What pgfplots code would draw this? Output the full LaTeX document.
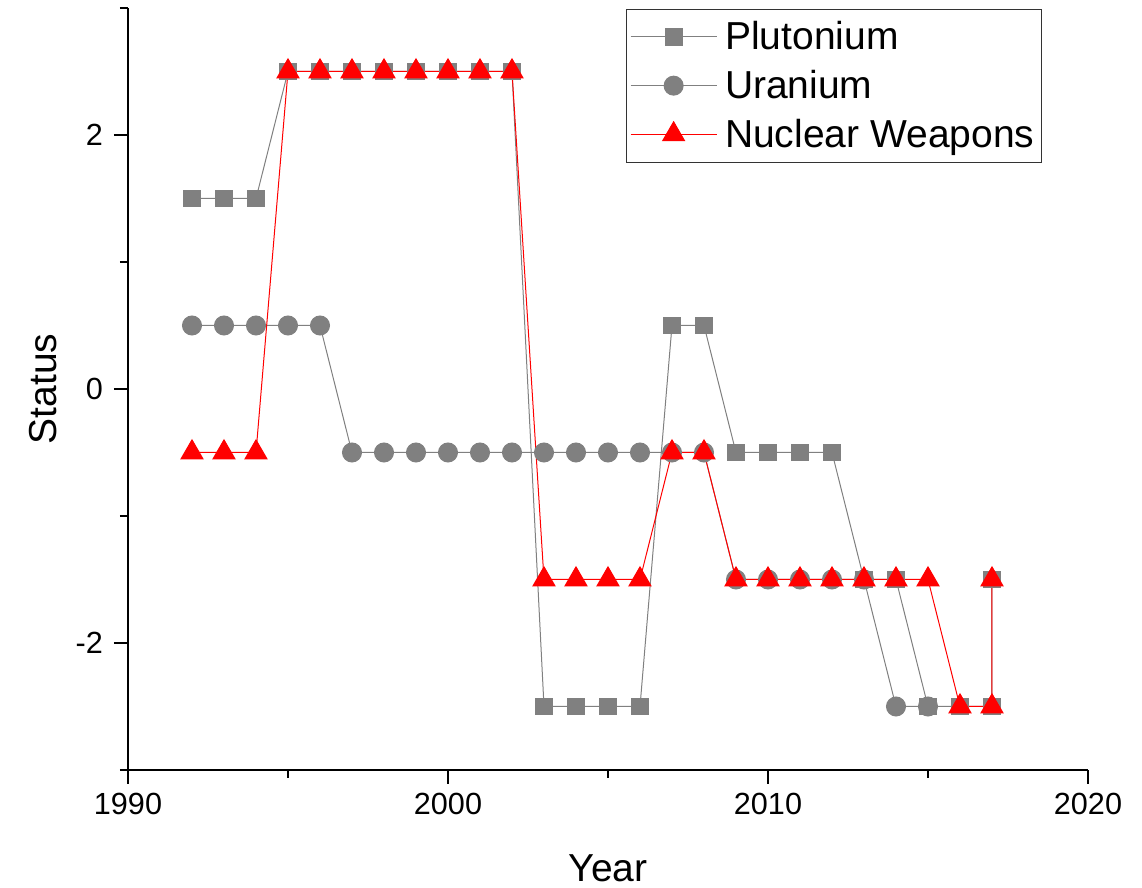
\documentclass[border=0pt]{standalone}
\usepackage{pgfplots}
\pgfplotsset{compat=1.18}
\usepackage{fontspec}
\setmainfont{Liberation Sans}
\definecolor{pgray}{RGB}{128,128,128}
\definecolor{pred}{RGB}{255,0,0}
\begin{document}
\begin{tikzpicture}
\useasboundingbox (-64pt,-59pt) rectangle (507pt,385pt);
\begin{axis}[
  at={(0,0)}, anchor=south west,
  scale only axis, width=480pt, height=381pt,
  xmin=1990, xmax=2020, ymin=-3, ymax=3,
  axis x line=bottom, axis y line=left,
  axis line style={-, line width=1pt, black},
  xtick={1990,2000,2010,2020}, xticklabels={1990,2000,2010,2020},
  minor xtick={1995,2005,2015},
  ytick={-2,0,2}, yticklabels={-2,0,2},
  minor ytick={-3,-1,1,3},
  tick align=outside,
  major tick length=7pt, minor tick length=4pt,
  every tick/.style={black, line width=1pt},
  tick label style={font=\fontsize{15.3}{18}\selectfont},
  xticklabel style={yshift=-1pt},
  yticklabel style={xshift=-2pt},
  xlabel={Year}, ylabel={Status},
  label style={font=\fontsize{19.5}{23}\selectfont},
  xlabel style={at={(axis description cs:0.5,-0.1286)}, anchor=center},
  ylabel style={at={(axis description cs:-0.0885,0.5)}, anchor=center, rotate=0},
  clip=false,
  legend cell align=left,
  legend image code/.code={\draw[mark repeat=2,mark phase=2,#1] plot coordinates {(0pt,0pt) (21.5pt,0pt) (43pt,0pt)};},
  legend style={at={(rel axis cs:0.952,0.999)}, anchor=north east,
    draw=black!80, line width=0.5pt, font=\fontsize{19.5}{23}\selectfont,
    inner xsep=2pt, inner ysep=4.5pt, row sep=5.75pt, column sep=2.5pt,
    nodes={inner sep=1.5pt}},
]
\addlegendimage{pgray, line width=0.5pt, mark=square*, mark size=4.2pt, mark options={fill=pgray, draw=pgray}}
\addlegendentry{Plutonium}
\addlegendimage{pgray, line width=0.5pt, mark=*, mark size=4.75pt, mark options={fill=pgray, draw=pgray}}
\addlegendentry{Uranium}
\addlegendimage{pred, line width=0.5pt, mark=triangle*, mark size=6.3pt, mark options={fill=pred, draw=pred}}
\addlegendentry{Nuclear Weapons}
% Uranium
\addplot[pgray, line width=0.5pt, mark=*, mark size=4.75pt, mark options={fill=pgray, draw=pgray}, forget plot] coordinates {
(1992,0.5) (1993,0.5) (1994,0.5) (1995,0.5) (1996,0.5)
(1997,-0.5) (1998,-0.5) (1999,-0.5) (2000,-0.5) (2001,-0.5) (2002,-0.5)
(2003,-0.5) (2004,-0.5) (2005,-0.5) (2006,-0.5) (2007,-0.5) (2008,-0.5)
(2009,-1.5) (2010,-1.5) (2011,-1.5) (2012,-1.5) (2013,-1.5)
(2014,-2.5) (2015,-2.5)
};
% Plutonium
\addplot[pgray, line width=0.5pt, mark=square*, mark size=4.2pt, mark options={fill=pgray, draw=pgray}, forget plot] coordinates {
(1992,1.5) (1993,1.5) (1994,1.5)
(1995,2.5) (1996,2.5) (1997,2.5) (1998,2.5) (1999,2.5) (2000,2.5) (2001,2.5) (2002,2.5)
(2003,-2.5) (2004,-2.5) (2005,-2.5) (2006,-2.5)
(2007,0.5) (2008,0.5)
(2009,-0.5) (2010,-0.5) (2011,-0.5) (2012,-0.5)
(2013,-1.5) (2014,-1.5)
(2015,-2.5) (2016,-2.5) (2017,-2.5) (2017,-1.5)
};
% Nuclear Weapons
\addplot[pred, line width=0.5pt, mark=triangle*, mark size=6.3pt, mark options={fill=pred, draw=pred}, forget plot] coordinates {
(1992,-0.5) (1993,-0.5) (1994,-0.5)
(1995,2.5) (1996,2.5) (1997,2.5) (1998,2.5) (1999,2.5) (2000,2.5) (2001,2.5) (2002,2.5)
(2003,-1.5) (2004,-1.5) (2005,-1.5) (2006,-1.5)
(2007,-0.5) (2008,-0.5)
(2009,-1.5) (2010,-1.5) (2011,-1.5) (2012,-1.5) (2013,-1.5) (2014,-1.5) (2015,-1.5)
(2016,-2.5) (2017,-2.5) (2017,-1.5)
};
\end{axis}
\end{tikzpicture}
\end{document}
